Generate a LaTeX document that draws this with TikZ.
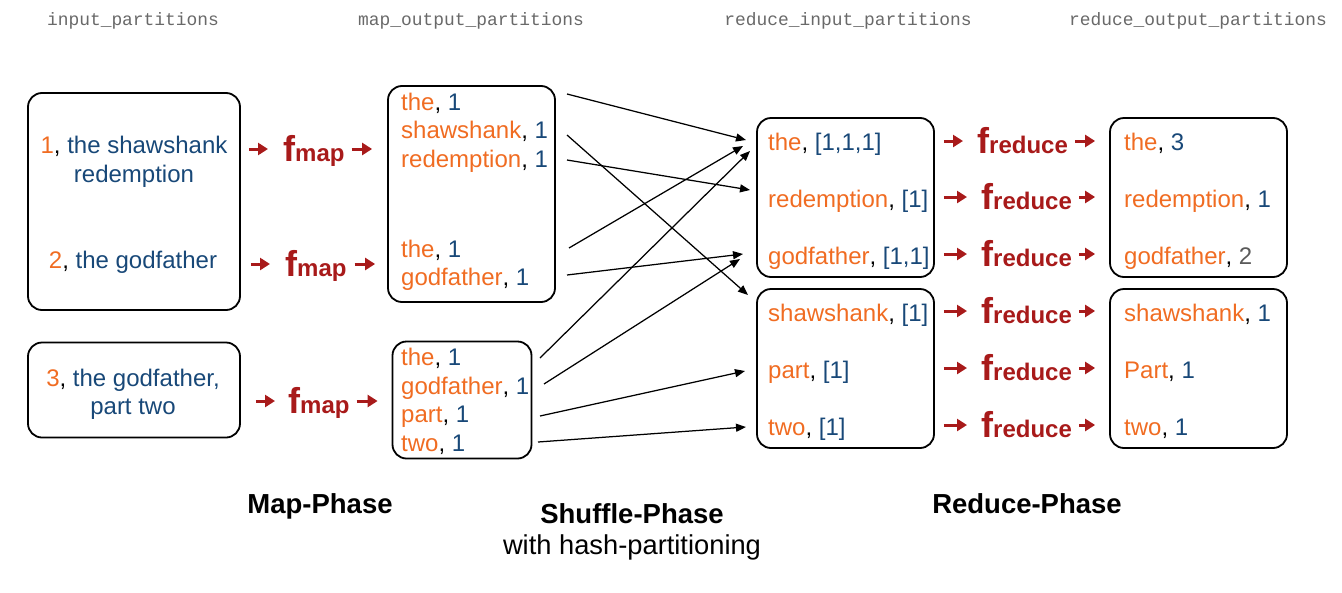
\documentclass[tikz,border=0pt]{standalone}
\usepackage{fontspec}
\setmainfont{Liberation Sans}
\newfontfamily\hdrfont{Liberation Mono}
\usetikzlibrary{arrows.meta,calc}
\definecolor{korange}{RGB}{240,108,34}
\definecolor{kblue}{RGB}{24,72,120}
\definecolor{kred}{RGB}{168,26,26}
\definecolor{kgray}{RGB}{90,90,90}
\definecolor{hgray}{RGB}{105,105,105}
\newcommand{\ko}[1]{\textcolor{korange}{#1}}
\newcommand{\kb}[1]{\textcolor{kblue}{#1}}
\newcommand{\fmap}{{\fontsize{36}{36}\selectfont f}{\fontsize{24}{24}\selectfont map}}
\newcommand{\fred}{{\fontsize{36}{36}\selectfont f}{\fontsize{24}{24}\selectfont reduce}}
\tikzset{
  box/.style={draw=black, line width=1.8pt, rounded corners=14pt, inner sep=0pt},
  txt/.style={anchor=base west, inner sep=0pt, font=\fontsize{24}{28}\selectfont},
  ctxt/.style={anchor=base, inner sep=0pt, font=\fontsize{24}{28}\selectfont, text=kblue},
  hdr/.style={anchor=base, inner sep=0pt, font=\hdrfont\fontsize{17.9}{20}\selectfont, text=hgray},
  fn/.style={anchor=west, inner sep=0pt, text height=30pt, text depth=5pt, text=kred, font=\bfseries},
  redarr/.style={-{Triangle[length=10pt,width=12pt]}, line width=3pt, draw=kred},
  shuf/.style={-{Triangle[length=10pt,width=8pt]}, line width=1.25pt, draw=black},
  phase/.style={anchor=base, inner sep=0pt, font=\bfseries\fontsize{27.5}{31}\selectfont},
  phasesub/.style={anchor=base, inner sep=0pt, font=\fontsize{27.3}{31}\selectfont}
}
\begin{document}
\begin{tikzpicture}[x=1pt,y=-1pt]
\useasboundingbox (0,0) rectangle (1342,592);
% headers
\node[hdr] (h1) at (133,25) {input\_partitions};
\node[hdr] (h2) at (471,25) {map\_output\_partitions};
\node[hdr] (h3) at (848,25) {reduce\_input\_partitions};
\node[hdr] (h4) at (1198,25) {reduce\_output\_partitions};
% boxes
\node[box, minimum width=212pt, minimum height=217pt] (in1) at (134,201.5) {};
\node[box, minimum width=212pt, minimum height=95pt] (in2) at (134,390) {};
\node[box, minimum width=167pt, minimum height=216pt] (mo1) at (471.5,194) {};
\node[box, minimum width=139pt, minimum height=117pt] (mo2) at (462,400) {};
\node[box, minimum width=177pt, minimum height=159pt] (ri1) at (845.5,197.5) {};
\node[box, minimum width=177pt, minimum height=159pt] (ri2) at (845.5,368.5) {};
\node[box, minimum width=177pt, minimum height=159pt] (ro1) at (1198.5,197.5) {};
\node[box, minimum width=177pt, minimum height=159pt] (ro2) at (1198.5,368.5) {};
% input texts
\node[ctxt] (i1a) at (134,153) {\ko{1}\textcolor{black}{,} the shawshank};
\node[ctxt] (i1b) at (134,182) {redemption};
\node[ctxt] (i2a) at (133,268) {\ko{2}\textcolor{black}{,} the godfather};
\node[ctxt] (i3a) at (133,386) {\ko{3}\textcolor{black}{,} the godfather,};
\node[ctxt] (i3b) at (133,414) {part two};
% map output texts
\node[txt] (m1) at (401,110) {\ko{the}, \kb{1}};
\node[txt] (m2) at (401,138.5) {\ko{shawshank}, \kb{1}};
\node[txt] (m3) at (401,167) {\ko{redemption}, \kb{1}};
\node[txt] (m4) at (401,257) {\ko{the}, \kb{1}};
\node[txt] (m5) at (401,285.5) {\ko{godfather}, \kb{1}};
\node[txt] (m6) at (401,365.5) {\ko{the}, \kb{1}};
\node[txt] (m7) at (401,394) {\ko{godfather}, \kb{1}};
\node[txt] (m8) at (401,422.5) {\ko{part}, \kb{1}};
\node[txt] (m9) at (401,451) {\ko{two}, \kb{1}};
% reduce input texts
\node[txt] (r1) at (768,150) {\ko{the}, \kb{[1,1,1]}};
\node[txt] (r2) at (768,207) {\ko{redemption}, \kb{[1]}};
\node[txt] (r3) at (768,264) {\ko{godfather}, \kb{[1,1]}};
\node[txt] (r4) at (768,321) {\ko{shawshank}, \kb{[1]}};
\node[txt] (r5) at (768,378) {\ko{part}, \kb{[1]}};
\node[txt] (r6) at (768,435) {\ko{two}, \kb{[1]}};
% reduce output texts
\node[txt] (o1) at (1124,150) {\ko{the}, \kb{3}};
\node[txt] (o2) at (1124,207) {\ko{redemption}, \kb{1}};
\node[txt] (o3) at (1124,264) {\ko{godfather}, \textcolor{kgray}{2}};
\node[txt] (o4) at (1124,321) {\ko{shawshank}, \kb{1}};
\node[txt] (o5) at (1124,378) {\ko{Part}, \kb{1}};
\node[txt] (o6) at (1124,435) {\ko{two}, \kb{1}};
% map functions
\node[fn] (fm1) at (283,149) {\fmap};
\node[fn] (fm2) at (285,264) {\fmap};
\node[fn] (fm3) at (288,401) {\fmap};
\draw[redarr, shorten <=8pt, shorten >=15pt] (in1.east |- fm1.west) -- (fm1.west);
\draw[redarr, shorten <=7pt, shorten >=15pt] (fm1.east) -- (mo1.west |- fm1.east);
\draw[redarr, shorten <=10pt, shorten >=15pt] (in1.east |- fm2.west) -- (fm2.west);
\draw[redarr, shorten <=8pt, shorten >=12pt] (fm2.east) -- (mo1.west |- fm2.east);
\draw[redarr, shorten <=15pt, shorten >=13pt] (in2.east |- fm3.west) -- (fm3.west);
\draw[redarr, shorten <=7pt, shorten >=14pt] (fm3.east) -- (mo2.west |- fm3.east);
% reduce functions
\foreach \n/\yy/\xx in {1/141/977, 2/197/981, 3/254/981, 4/311/981, 5/368/981, 6/425/981}{
  \node[fn] (fr\n) at (\xx,\yy) {\fred};
}
\foreach \n in {1,2,3}{
  \draw[redarr, shorten <=9pt, shorten >=14pt] (ri1.east |- fr\n.west) -- (fr\n.west);
  \draw[redarr, shorten <=7pt, shorten >=14pt] (fr\n.east) -- (ro1.west |- fr\n.east);
}
\foreach \n in {4,5,6}{
  \draw[redarr, shorten <=9pt, shorten >=14pt] (ri2.east |- fr\n.west) -- (fr\n.west);
  \draw[redarr, shorten <=7pt, shorten >=14pt] (fr\n.east) -- (ro2.west |- fr\n.east);
}
% shuffle endpoints
\coordinate (s1) at (567,94);   \coordinate (e1) at (746,140);
\coordinate (s2) at (567,135);  \coordinate (e2) at (748,295);
\coordinate (s3) at (567,160);  \coordinate (e3) at (750,190);
\coordinate (s4) at (569,248);  \coordinate (e4) at (743,146);
\coordinate (s5) at (567,275);  \coordinate (e5) at (743,254);
\coordinate (s6) at (540,358);  \coordinate (e6) at (750,151);
\coordinate (s7) at (544,384);  \coordinate (e7) at (740,259);
\coordinate (s8) at (540,416);  \coordinate (e8) at (745,371);
\coordinate (s9) at (538,442);  \coordinate (e9) at (746,427);
\foreach \n in {1,...,9}{ \draw[shuf] (s\n) -- (e\n); }
% phase labels
\node[phase] (p1) at (320,513) {Map-Phase};
\node[phase] (p2) at (632,523) {Shuffle-Phase};
\node[phasesub] (p2b) at (632,554) {with hash-partitioning};
\node[phase] (p3) at (1027,513) {Reduce-Phase};
\end{tikzpicture}
\end{document}
